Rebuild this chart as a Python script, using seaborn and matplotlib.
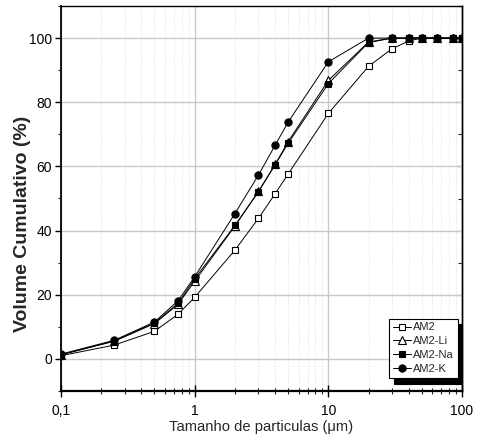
import numpy as np
import pandas as pd
import matplotlib
matplotlib.use("Agg")
import matplotlib.pyplot as plt
from matplotlib import font_manager as fm
import seaborn as sns
from matplotlib.ticker import FixedLocator, FixedFormatter, LogLocator, NullFormatter, MultipleLocator

sizes = [0.1, 0.25, 0.5, 0.75, 1, 2, 3, 4, 5, 10, 20, 30, 40, 50, 65, 85, 100]
am2    = [1.0, 4.3, 8.6, 13.9, 19.2, 33.9, 43.8, 51.5, 57.6, 76.5, 91.2, 96.7, 99.1, 100, 100, 100, 100]
am2_li = [1.3, 5.5, 11.0, 17.0, 24.2, 41.4, 52.2, 60.6, 67.7, 86.8, 98.8, 100, 100, 100, 100, 100, 100]
am2_na = [1.3, 5.6, 11.2, 17.3, 25.0, 41.6, 52.1, 60.5, 67.2, 85.8, 98.6, 100, 100, 100, 100, 100, 100]
am2_k  = [1.5, 5.8, 11.5, 18.1, 25.6, 45.3, 57.3, 66.6, 73.8, 92.6, 100, 100, 100, 100, 100, 100, 100]
series_names = ["AM2", "AM2-Li", "AM2-Na", "AM2-K"]
x_ticks = [0.1, 1, 10, 100]
x_tick_labels = ["0,1", "1", "10", "100"]
y_ticks = [0, 20, 40, 60, 80, 100]

df = pd.concat([
    pd.DataFrame({"size": sizes, "vol": v, "amostra": n})
    for v, n in zip([am2, am2_li, am2_na, am2_k], series_names)
])

sns.set_style("whitegrid")
plt.rcParams["font.family"] = ["Liberation Sans", "DejaVu Sans"]

available = {f.name for f in fm.fontManager.ttflist}
narrow = "Liberation Sans Narrow" in available
small_fam = ["Liberation Sans Narrow", "Liberation Sans", "DejaVu Sans"] if narrow else ["Liberation Sans", "DejaVu Sans"]
tick_size = 11.5 if narrow else 10
xlab_size = 12.7 if narrow else 10.6

fig = plt.figure(figsize=(4.78, 4.44), dpi=100)
ax = fig.add_axes([61/478, 53/444, (462-61)/478, (391-6)/444])

styles = {
    "AM2": dict(marker="s", mfc="white", ms=4.6),
    "AM2-Li": dict(marker="^", mfc="white", ms=5.2),
    "AM2-Na": dict(marker="s", mfc="black", ms=4.6),
    "AM2-K": dict(marker="o", mfc="black", ms=5.2),
}
for n in series_names:
    st = styles[n]
    sns.lineplot(data=df[df["amostra"] == n], x="size", y="vol", ax=ax,
                 color="black", lw=0.7, marker=st["marker"],
                 markerfacecolor=st["mfc"], markeredgecolor="black",
                 markeredgewidth=0.8, markersize=st["ms"], label=n, zorder=3)

ax.set_xscale("log")
ax.set_xlim(0.1, 100)
ax.set_ylim(-10, 110)
ax.xaxis.set_major_locator(FixedLocator(x_ticks))
ax.xaxis.set_major_formatter(FixedFormatter(x_tick_labels))
ax.xaxis.set_minor_locator(LogLocator(base=10, subs=np.arange(2, 10)))
ax.xaxis.set_minor_formatter(NullFormatter())
ax.yaxis.set_major_locator(FixedLocator(y_ticks))
ax.yaxis.set_minor_locator(MultipleLocator(10))

ax.grid(True, which="major", color="#c8c8c8", lw=1.0, ls="-")
ax.grid(True, which="minor", axis="x", color="#d4d4d4", lw=0.6, ls=(0, (1, 2)))
ax.set_axisbelow(True)

for s in ax.spines.values():
    s.set_visible(True)
    s.set_color("black")
    s.set_linewidth(1.0)
ax.spines["bottom"].set_linewidth(1.6)
ax.spines["left"].set_linewidth(1.3)

ax.tick_params(axis="x", which="major", direction="inout", length=8, width=1.0,
               labelsize=tick_size, colors="black", bottom=True, pad=5)
ax.tick_params(axis="x", which="minor", direction="inout", length=5, width=0.8, bottom=True)
ax.tick_params(axis="y", which="major", direction="out", length=4.5, width=1.0,
               labelsize=tick_size, colors="black", left=True, right=False, pad=2)
ax.tick_params(axis="y", which="minor", direction="out", length=2.5, width=0.8, left=True, right=False)

# inward ticks on right spine
sec = ax.secondary_yaxis("right")
sec.yaxis.set_major_locator(FixedLocator(y_ticks))
sec.yaxis.set_minor_locator(MultipleLocator(10))
sec.tick_params(which="major", direction="in", length=4, width=0.8, labelright=False)
sec.tick_params(which="minor", direction="in", length=3, width=0.8)
sec.spines["right"].set_linewidth(1.0)
sec.spines["right"].set_color("black")

for lab in ax.get_xticklabels() + ax.get_yticklabels():
    lab.set_family(small_fam)

ax.set_xlabel("Tamanho de particulas (μm)", fontsize=xlab_size, family=small_fam, labelpad=2)
ax.set_ylabel("Volume Cumulativo (%)", fontsize=14, fontweight="bold")
ax.yaxis.set_label_coords((31-61)/401, (391-223.5)/385)

leg = ax.legend(loc="lower right", bbox_to_anchor=((458-61)/401, (391-378)/385), frameon=True, fancybox=False,
                shadow={"color": "black", "alpha": 1.0, "ox": 3, "oy": -4},
                prop={"family": small_fam, "size": 8},
                handlelength=1.6, handletextpad=0.2, labelspacing=0.35, borderpad=0.35,
                borderaxespad=0.0)
leg.get_frame().set_edgecolor("black")
leg.get_frame().set_linewidth(0.8)
leg.get_frame().set_alpha(1)

fig.savefig("out.png", dpi=100)
